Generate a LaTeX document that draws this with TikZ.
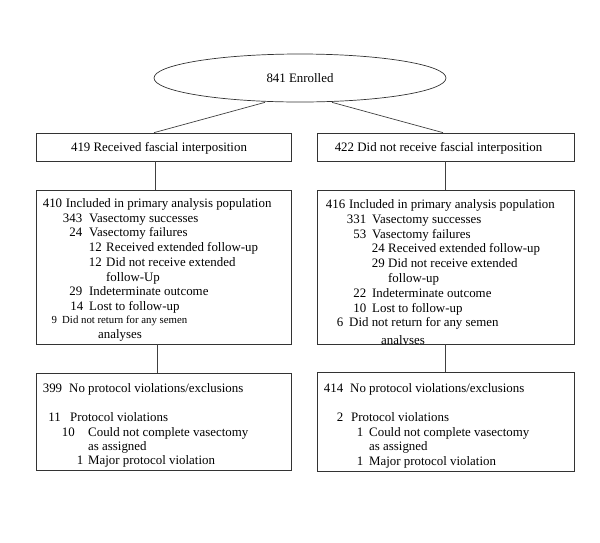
\documentclass[tikz,border=0pt]{standalone}
\usepackage{fontspec}
\setmainfont{Liberation Serif}
\usepackage{tikz}
\usetikzlibrary{shapes.geometric}
\tikzset{
  flowbox/.style={draw=black!80, line width=0.7pt, rectangle, inner sep=0pt},
  numtext/.style={anchor=base east, inner sep=0pt},
  linetext/.style={anchor=base west, inner sep=0pt},
  link/.style={draw=black!75, line width=0.7pt}
}

\begin{document}
\begin{tikzpicture}[x=1pt, y=-1pt, font=\fontsize{12.9pt}{14.7pt}\selectfont]
  \useasboundingbox (0,0) rectangle (600,542);
  % enrolment and the two arms
  \node[flowbox, ellipse, minimum width=292pt, minimum height=48pt] (enrol) at (300,78) {841 Enrolled};
  \node[flowbox, minimum width=255pt, minimum height=28pt] (recvfi) at (163.5,147) {};
  \node[flowbox, minimum width=257pt, minimum height=28pt] (norecv) at (445.5,147) {};
  \node[anchor=base, inner sep=0pt] (recvfi-t) at (159,151.5) {419 Received fascial interposition};
  \node[anchor=base, inner sep=0pt] (norecv-t) at (438.5,151.5) {422 Did not receive fascial interposition};
  % analysis population boxes
  \node[flowbox, minimum width=255pt, minimum height=154pt] (incla) at (163.5,267) {};
  \node[flowbox, minimum width=257pt, minimum height=154pt] (inclb) at (445.5,267) {};
  % protocol boxes
  \node[flowbox, minimum width=255pt, minimum height=97pt] (protoa) at (163.5,421.5) {};
  \node[flowbox, minimum width=257pt, minimum height=99pt] (protob) at (445.5,422) {};

  % connectors
  \draw[link] ([xshift=-35pt]enrol.south) -- ([xshift=-9.5pt]recvfi.north);
  \draw[link] ([xshift=32pt]enrol.south) -- ([xshift=-2.5pt]norecv.north);
  \draw[link] ([xshift=-8.5pt]recvfi.south) -- ([xshift=-8.5pt]incla.north);
  \draw[link] (norecv.south) -- (inclb.north);
  \draw[link] ([xshift=-6.5pt]incla.south) -- ([xshift=-6.5pt]protoa.north);
  \draw[link] (inclb.south) -- (protob.north);

  % left arm, analysis population
  \foreach \x/\y/\n [count=\k] in {62.4/207.5/410, 82.5/222.2/343, 82.5/236.9/24, 102/251.6/12,
      102/266.3/12, 82.5/295.7/29, 83.5/310.4/14}
    \node[numtext] (incla-n\k) at (\x,\y) {\n};
  \foreach \x/\y/\t [count=\k] in {65.6/207.5/{Included in primary analysis population},
      89/222.2/{Vasectomy successes}, 89/236.9/{Vasectomy failures},
      106/251.6/{Received extended follow-up}, 106/266.3/{Did not receive extended},
      106/281/{follow-Up}, 89/295.7/{Indeterminate outcome}, 89/310.4/{Lost to follow-up},
      98/338.5/{analyses}}
    \node[linetext] (incla-t\k) at (\x,\y) {\t};
  \node[numtext, font=\fontsize{10.8pt}{12pt}\selectfont] (incla-n8) at (57.2,323.5) {9};
  \node[linetext, font=\fontsize{10.8pt}{12pt}\selectfont] (incla-t10) at (62,323.5) {Did not return for any semen};

  % right arm, analysis population
  \foreach \x/\y/\n [count=\k] in {345.4/208.5/416, 366.4/223.3/331, 366.4/238.1/53, 385/252.9/24,
      385/267.7/29, 366.4/297.3/22, 366.4/312.1/10, 343.5/326.9/6}
    \node[numtext] (inclb-n\k) at (\x,\y) {\n};
  \foreach \x/\y/\t [count=\k] in {349/208.5/{Included in primary analysis population},
      372/223.3/{Vasectomy successes}, 372/238.1/{Vasectomy failures},
      388/252.9/{Received extended follow-up}, 388/267.7/{Did not receive extended},
      388/282.5/{follow-up}, 372/297.3/{Indeterminate outcome}, 372/312.1/{Lost to follow-up},
      349/326.9/{Did not return for any semen}}
    \node[linetext] (inclb-t\k) at (\x,\y) {\t};
  \begin{scope}
    \clip (inclb.north west) rectangle (inclb.south east);
    \node[linetext] (inclb-t10) at (381,344.5) {analyses};
  \end{scope}

  % protocol violations
  \foreach \x/\y/\n [count=\k] in {62.4/392/399, 61/421/11, 75/436/10, 83.5/464.5/1,
      343.4/392/414, 343.5/421/2, 363.5/436/1, 363.5/465/1}
    \node[numtext] (proto-n\k) at (\x,\y) {\n};
  \foreach \x/\y/\t [count=\k] in {69/392/{No protocol violations/exclusions},
      70/421/{Protocol violations}, 88/436/{Could not complete vasectomy},
      88/450/{as assigned}, 88/464.5/{Major protocol violation},
      350/392/{No protocol violations/exclusions}, 351/421/{Protocol violations},
      369/436/{Could not complete vasectomy}, 369/450/{as assigned},
      369/465/{Major protocol violation}}
    \node[linetext] (proto-t\k) at (\x,\y) {\t};
\end{tikzpicture}
\end{document}
